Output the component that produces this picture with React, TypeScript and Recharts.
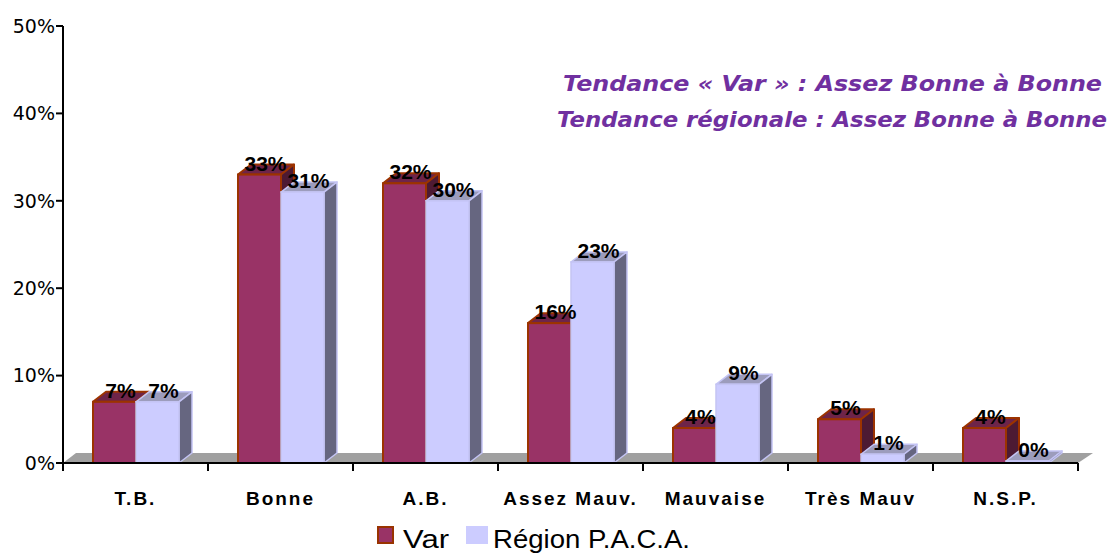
import React from "react";
import { Bar, BarChart, LabelList, XAxis, YAxis } from "recharts";

const categories = ["T.B.", "Bonne", "A.B.", "Assez Mauv.", "Mauvaise", "Très Mauv", "N.S.P."];
const varValues = [7, 33, 32, 16, 4, 5, 4];
const regionValues = [7, 31, 30, 23, 9, 1, 0];
const yTicks = [0, 10, 20, 30, 40, 50];
const titleLines = [
  "Tendance « Var » : Assez Bonne à Bonne",
  "Tendance régionale : Assez Bonne à Bonne",
];

const data = categories.map((cat, i) => ({ cat, var: varValues[i], region: regionValues[i] }));

const W = 1110;
const H = 554;
const LEFT = 63;
const RIGHT = 1078;
const TOP = 26;
const BOTTOM = 463;
const DX = 13;
const DY = 10;
const BAND = (RIGHT - LEFT) / categories.length;

const labelFont = "'Liberation Sans', Arial, sans-serif";

function make3D(front: string, top: string, side: string, stroke: string, sw: number) {
  return (props: any) => {
    const { x, y, width, height } = props;
    if (x == null || y == null) return null;
    const h = Math.max(0, height);
    const w = width;
    return (
      <g>
        <polygon
          points={`${x},${y} ${x + DX},${y - DY} ${x + w + DX},${y - DY} ${x + w},${y}`}
          fill={top}
          stroke={stroke}
          strokeWidth={sw}
          strokeLinejoin="round"
        />
        <polygon
          points={`${x + w},${y} ${x + w + DX},${y - DY} ${x + w + DX},${y + h - DY} ${x + w},${y + h}`}
          fill={side}
          stroke={stroke}
          strokeWidth={sw}
          strokeLinejoin="round"
        />
        <rect x={x} y={y} width={w} height={h} fill={front} stroke={stroke} strokeWidth={sw} />
      </g>
    );
  };
}

const VarShape = make3D("#993366", "#6e2449", "#4d1a33", "#9c3300", 2);
const RegionShape = make3D("#CCCCFF", "#9c9cbc", "#666680", "#c4c4f4", 1.5);

function renderValueLabel(props: any) {
  const vb = props.viewBox || {};
  const x = props.x ?? vb.x;
  const y = props.y ?? vb.y;
  const width = props.width ?? vb.width;
  if (x == null || y == null) return null;
  return (
    <text
      x={x + width / 2 + 6}
      y={y - 4}
      textAnchor="middle"
      fontFamily={labelFont}
      fontWeight="bold"
      fontSize={21}
      fill="#000"
    >
      {`${props.value}%`}
    </text>
  );
}

function CategoryTick(props: any) {
  const { x, y, payload, index } = props;
  const left = x - BAND / 2;
  return (
    <g>
      <line x1={left} y1={y} x2={left} y2={y + 8} stroke="#000" strokeWidth={2} />
      {index === categories.length - 1 && (
        <line x1={x + BAND / 2} y1={y} x2={x + BAND / 2} y2={y + 8} stroke="#000" strokeWidth={2} />
      )}
      <text
        x={x}
        y={y + 42}
        textAnchor="middle"
        fontFamily={labelFont}
        fontWeight="bold"
        fontSize={19}
        letterSpacing={2}
        fill="#000"
      >
        {payload.value}
      </text>
    </g>
  );
}

export default function App() {
  return (
    <div style={{ position: "absolute", left: 0, top: 0, width: W, height: H, background: "#fff" }}>
      <svg width={W} height={H} style={{ position: "absolute", left: 0, top: 0 }}>
        <polygon
          points={`${LEFT},${BOTTOM} ${LEFT + DX},${BOTTOM - DY} ${RIGHT + DX + 2},${BOTTOM - DY} ${RIGHT},${BOTTOM}`}
          fill="#a0a0a0"
        />
        <line x1={LEFT} y1={BOTTOM} x2={LEFT} y2={BOTTOM + 7} stroke="#000" strokeWidth={2} />
        <text
          x={1102}
          y={91}
          textAnchor="end"
          fontFamily="'DejaVu Sans', sans-serif"
          fontWeight="bold"
          fontStyle="italic"
          fontSize={22}
          fill="#7030A0"
          textLength={539}
          lengthAdjust="spacingAndGlyphs"
        >
          {titleLines[0]}
        </text>
        <text
          x={1107}
          y={127}
          textAnchor="end"
          fontFamily="'DejaVu Sans', sans-serif"
          fontWeight="bold"
          fontStyle="italic"
          fontSize={22}
          fill="#7030A0"
          textLength={550}
          lengthAdjust="spacingAndGlyphs"
        >
          {titleLines[1]}
        </text>
        <rect x={378} y={527} width={15} height={16} fill="#993366" stroke="#993300" strokeWidth={2} />
        <text x={403} y={548} fontFamily={labelFont} fontSize={25} fill="#000" textLength={46} lengthAdjust="spacingAndGlyphs">
          Var
        </text>
        <rect x={466} y={526} width={22} height={18} fill="#CCCCFF" />
        <text x={493} y={548} fontFamily={labelFont} fontSize={25} fill="#000" textLength={197} lengthAdjust="spacingAndGlyphs">
          Région P.A.C.A.
        </text>
      </svg>
      <div style={{ position: "absolute", left: 0, top: 0 }}>
        <BarChart
          width={W}
          height={H}
          data={data}
          margin={{ top: TOP, right: W - RIGHT, bottom: 0, left: 0 }}
          barGap={0}
          barSize={43}
        >
          <XAxis
            dataKey="cat"
            height={H - BOTTOM}
            axisLine={{ stroke: "#000", strokeWidth: 2 }}
            tickLine={false}
            tickSize={0}
            tickMargin={0}
            interval={0}
            tick={<CategoryTick />}
          />
          <YAxis
            width={LEFT}
            domain={[0, 50]}
            ticks={yTicks}
            interval={0}
            tickFormatter={(v) => `${v}%`}
            axisLine={{ stroke: "#000", strokeWidth: 2 }}
            tickLine={{ stroke: "#000", strokeWidth: 2 }}
            tickSize={7}
            tickMargin={1}
            tick={{ fill: "#000", fontSize: 19, fontFamily: "'DejaVu Sans', sans-serif" }}
          />
          <Bar dataKey="var" name="Var" fill="#993366" shape={VarShape} isAnimationActive={false}>
            <LabelList dataKey="var" content={renderValueLabel} />
          </Bar>
          <Bar
            dataKey="region"
            name="Région P.A.C.A."
            fill="#CCCCFF"
            shape={RegionShape}
            minPointSize={2}
            isAnimationActive={false}
          >
            <LabelList dataKey="region" content={renderValueLabel} />
          </Bar>
        </BarChart>
      </div>
    </div>
  );
}
